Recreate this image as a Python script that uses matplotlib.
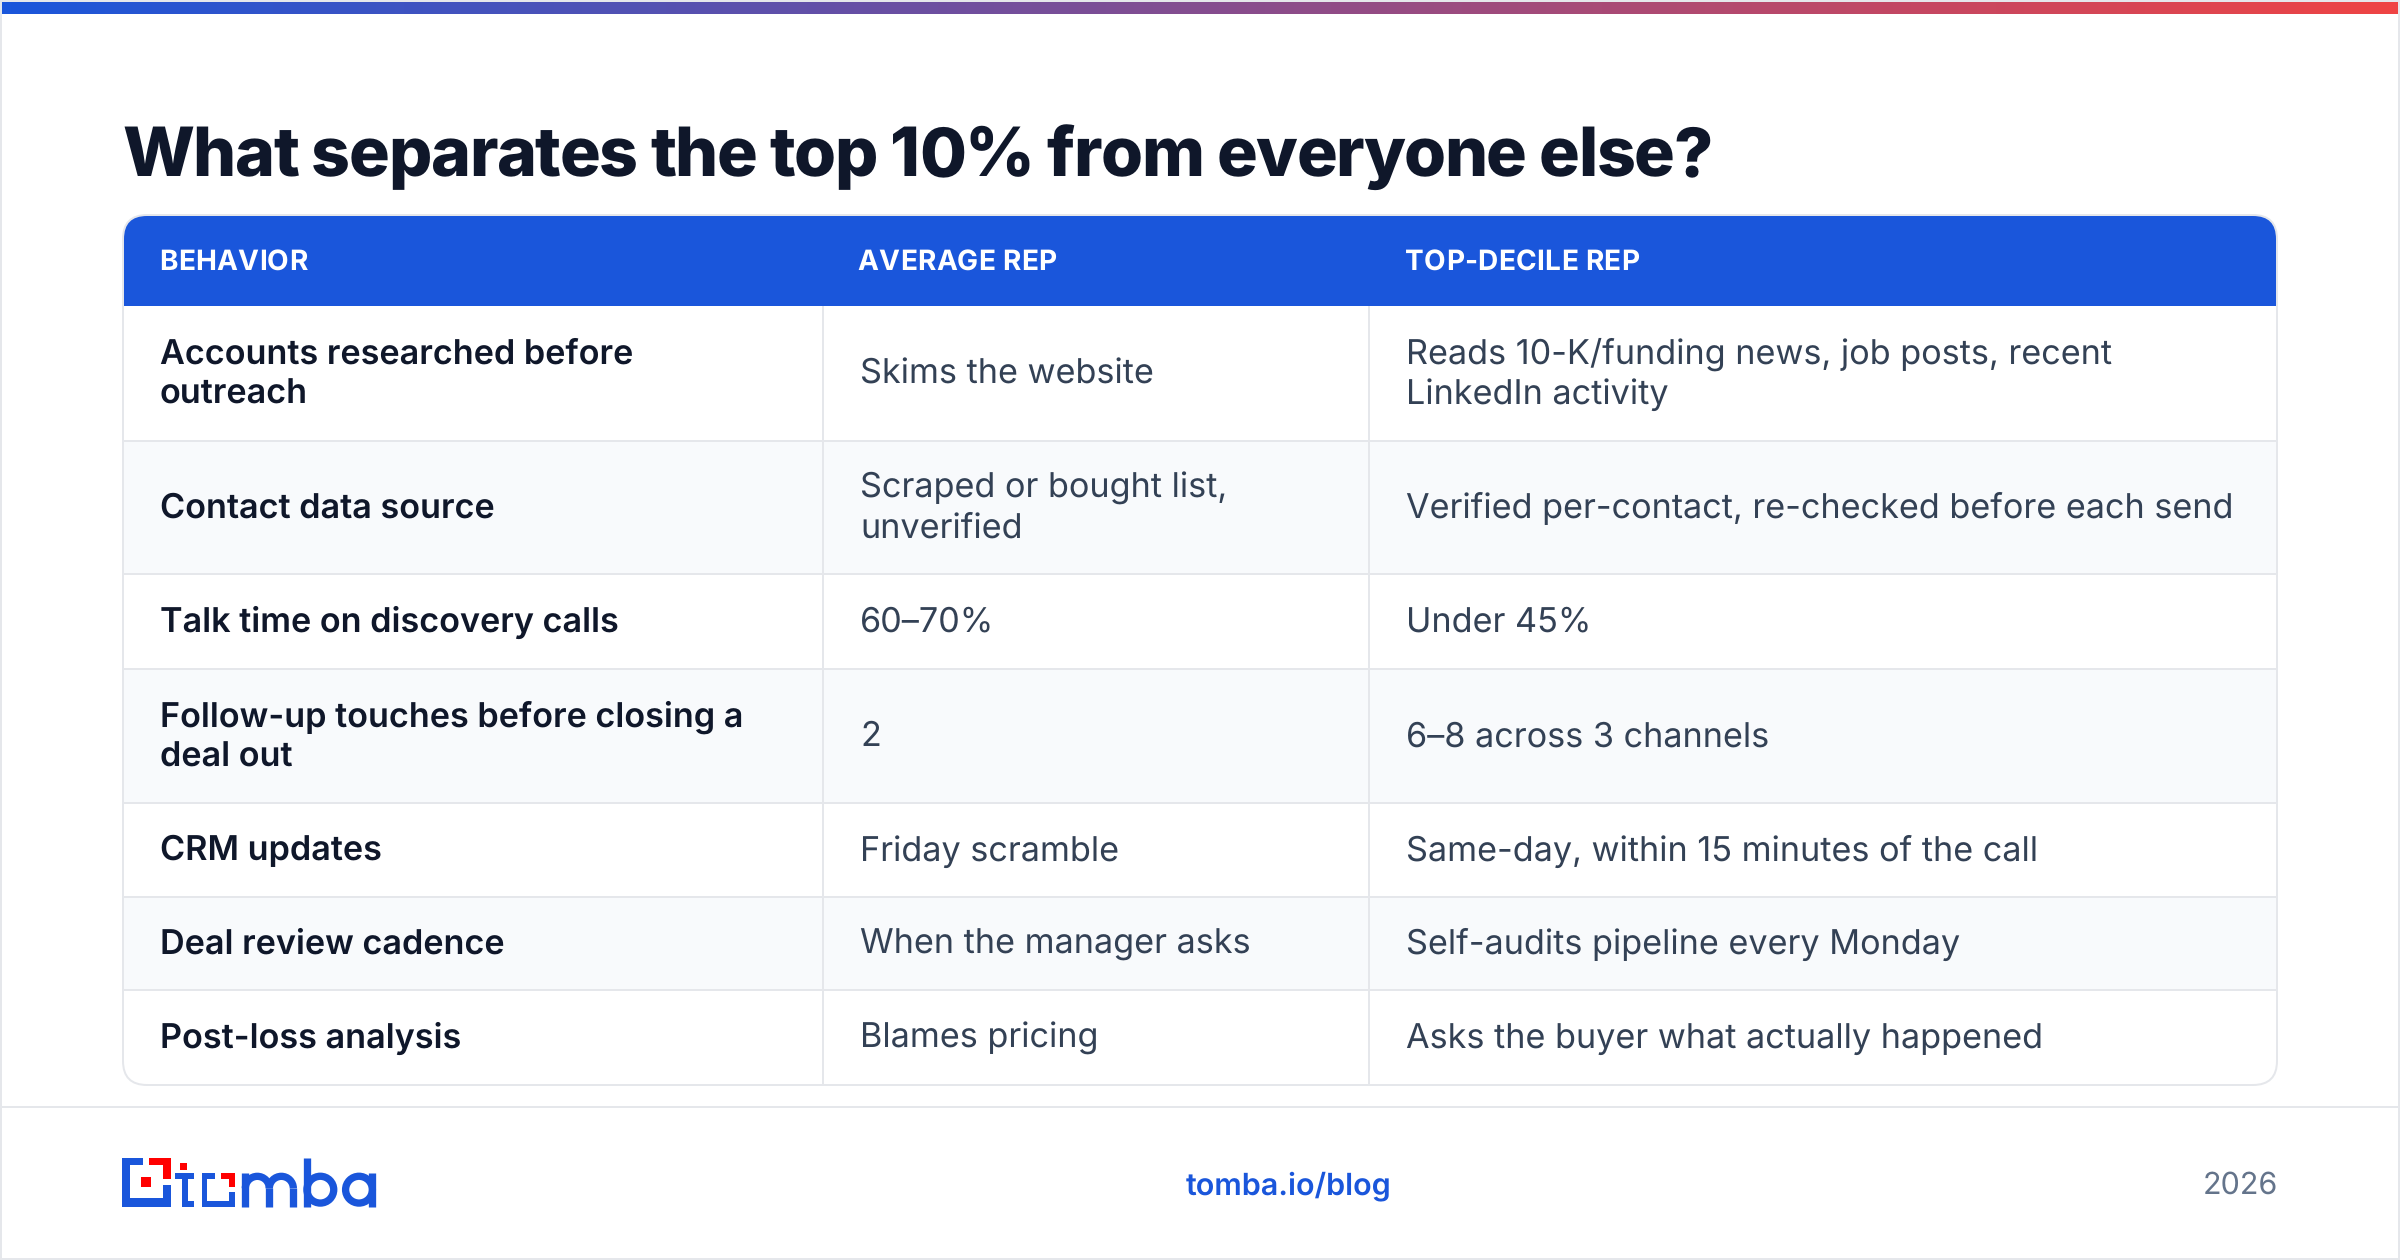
import numpy as np
import matplotlib
matplotlib.use("Agg")
import matplotlib.pyplot as plt
from matplotlib import font_manager as fm
from matplotlib.patches import Rectangle, FancyBboxPatch, Circle, Arc
from matplotlib.text import Text
from matplotlib.transforms import IdentityTransform

plt.rcParams["text.hinting"] = "none"
plt.rcParams["text.hinting_factor"] = 1

title = "What separates the top 10% from everyone else?"
headers = ["BEHAVIOR", "AVERAGE REP", "TOP-DECILE REP"]
behaviors = ["Accounts researched before\noutreach", "Contact data source", "Talk time on discovery calls",
             "Follow-up touches before closing a\ndeal out", "CRM updates", "Deal review cadence", "Post-loss analysis"]
average_rep = ["Skims the website", "Scraped or bought list,\nunverified", "60–70%", "2", "Friday scramble",
               "When the manager asks", "Blames pricing"]
top_rep = ["Reads 10-K/funding news, job posts, recent\nLinkedIn activity",
           "Verified per-contact, re-checked before each send", "Under 45%", "6–8 across 3 channels",
           "Same-day, within 15 minutes of the call", "Self-audits pipeline every Monday",
           "Asks the buyer what actually happened"]
footer_link = "tomba.io/blog"
footer_year = "2026"

BLUE = "#1a56db"
LINE = "#e5e7eb"
DARK = "#0f172a"
BODY = "#334155"

row_edges = [306, 441, 574, 669, 803, 897, 990, 1085]
col_edges = [122, 823, 1369, 2278]
text_x = [160, 860, 1406]
head_x = [159, 857.5, 1405]

fig = plt.figure(figsize=(24, 12.6), dpi=100)
ax = fig.add_axes([0, 0, 1, 1])
ax.set_xlim(0, 2400)
ax.set_ylim(1260, 0)
ax.axis("off")
PX = 0.72  # points per pixel


def font(weight):
    return fm.FontProperties(family=["Inter", "DejaVu Sans"], weight=weight)


class SpacedText(Text):
    # one text object, drawn glyph by glyph with css style letter spacing
    def __init__(self, *args, spacing=0, **kwargs):
        super().__init__(*args, **kwargs)
        self.spacing = spacing

    def draw(self, renderer):
        s = self.get_text()
        fp = self.get_fontproperties()
        x0, y0 = self.get_transform().transform(self.get_position())

        def width(part):
            return renderer.get_text_width_height_descent(part, fp, False)[0]

        for i, ch in enumerate(s):
            if ch == " ":
                continue
            x = x0 + width(s[:i + 1]) - width(ch) + i * self.spacing
            t = Text(x, y0, ch, fontproperties=fp, color=self.get_color(), va="baseline",
                     transform=IdentityTransform())
            t.set_figure(self.get_figure())
            t.draw(renderer)


def spaced(x, y, s, spacing, weight, size, color):
    t = SpacedText(x, y, s, spacing=spacing, fontproperties=font(weight), color=color, va="baseline", zorder=4)
    t.set_fontsize(size * PX)
    ax.add_artist(t)
    return t


# page border and gradient strip
ax.add_patch(Rectangle((1, 1), 2398, 1258, fc="white", ec=LINE, lw=2 * PX))
grad = np.linspace(0, 1, 256).reshape(1, -1)
cmap = matplotlib.colors.LinearSegmentedColormap.from_list("strip", [BLUE, "#ef4444"])
ax.imshow(grad, extent=(2, 2398, 14, 2), cmap=cmap, aspect="auto", zorder=2)
ax.set_xlim(0, 2400)
ax.set_ylim(1260, 0)

spaced(122, 176, title, -1.36, 800, 68, DARK)

# card
card = FancyBboxPatch((123, 215), 2154, 870, boxstyle="round,pad=0,rounding_size=24", fc="white", ec="none", zorder=1)
ax.add_patch(card)
head = Rectangle((122, 214), 2156, row_edges[0] - 214, fc=BLUE, ec="none", zorder=2)
ax.add_patch(head)
head.set_clip_path(card)
for i in range(len(behaviors)):
    if i % 2 == 1:
        r = Rectangle((122, row_edges[i]), 2156, row_edges[i + 1] - row_edges[i], fc="#f8fafc", ec="none", zorder=1.5)
        ax.add_patch(r)
        r.set_clip_path(card)
for y in row_edges[1:-1]:
    ax.plot([122, 2278], [y, y], color=LINE, lw=2 * PX, zorder=3, solid_capstyle="butt")
for x in col_edges[1:-1]:
    ax.plot([x, x], [row_edges[0], row_edges[-1]], color=LINE, lw=2 * PX, zorder=3, solid_capstyle="butt")
ax.add_patch(FancyBboxPatch((123, 215), 2154, 870, boxstyle="round,pad=0,rounding_size=24", fc="none", ec=LINE,
                            lw=2 * PX, zorder=2.5))

for x, h in zip(head_x, headers):
    spaced(x, 270, h, 0.28, 700, 28, "white")


def cell(x, y0, y1, s, weight, color):
    lines = s.split("\n")
    mid = (y0 + y1) / 2
    for k, line in enumerate(lines):
        base = mid + 10.5 + (k - (len(lines) - 1) / 2) * 40
        ax.text(x, base, line, fontproperties=font(weight), fontsize=34.2 * PX, color=color, va="baseline", zorder=4)


for i in range(len(behaviors)):
    cell(text_x[0], row_edges[i], row_edges[i + 1], behaviors[i], 600, DARK)
    cell(text_x[1], row_edges[i], row_edges[i + 1], average_rep[i], 400, BODY)
    cell(text_x[2], row_edges[i], row_edges[i + 1], top_rep[i], 400, BODY)

# footer
ax.plot([2, 2398], [1107, 1107], color=LINE, lw=2 * PX, solid_capstyle="butt")
ax.text(1288.5, 1194, footer_link, fontproperties=font(600), fontsize=30.5 * PX, color=BLUE, ha="center", va="baseline")
ax.text(2278, 1194, footer_year, fontproperties=font(400), fontsize=30.5 * PX, color="#64748b", ha="right", va="baseline")


# logo, traced in crop units of the zoomed reference
def lx(v):
    return 100 + v / 3


def ly(v):
    return 1130 + v / 3


def block(x0, x1, y0, y1, color):
    ax.add_patch(Rectangle((lx(x0), ly(y0)), (x1 - x0) / 3, (y1 - y0) / 3, fc=color, ec="none", zorder=5))


RED = "#ff0000"
for b in [(66, 90, 84, 230), (66, 130, 84, 106), (66, 212, 205, 230), (188, 212, 165, 230),
          (225, 283, 128, 147), (245, 265, 128, 215), (245, 283, 213, 230),
          (305, 322, 128, 230), (305, 345, 128, 147), (305, 405, 213, 230), (388, 405, 185, 230)]:
    block(*b, BLUE)
for b in [(147, 212, 84, 106), (188, 212, 84, 147), (124, 154, 142, 170), (241, 262, 99, 119),
          (362, 405, 128, 147), (388, 405, 128, 172)]:
    block(*b, RED)
SW = 7.3 * PX


def stroke(xs, ys):
    ax.plot([lx(v) for v in xs], [ly(v) for v in ys], color=BLUE, lw=SW, solid_capstyle="butt", zorder=5)


def arch(cx, cy, d):
    ax.add_patch(Arc((lx(cx), ly(cy)), d / 3, d / 3, theta1=180, theta2=360, ec=BLUE, lw=SW, zorder=5))


stroke([436, 436], [128, 230])
stroke([508, 508], [175, 230])
stroke([580, 580], [175, 230])
arch(472, 175, 72)
arch(544, 175, 72)
stroke([621, 621], [84, 230])
ax.add_patch(Circle((lx(661), ly(179)), 13.4, fc="none", ec=BLUE, lw=SW, zorder=5))
ax.add_patch(Circle((lx(777), ly(179)), 13.4, fc="none", ec=BLUE, lw=SW, zorder=5))
stroke([817, 817], [128, 230])

fig.savefig("out.png", dpi=100)
